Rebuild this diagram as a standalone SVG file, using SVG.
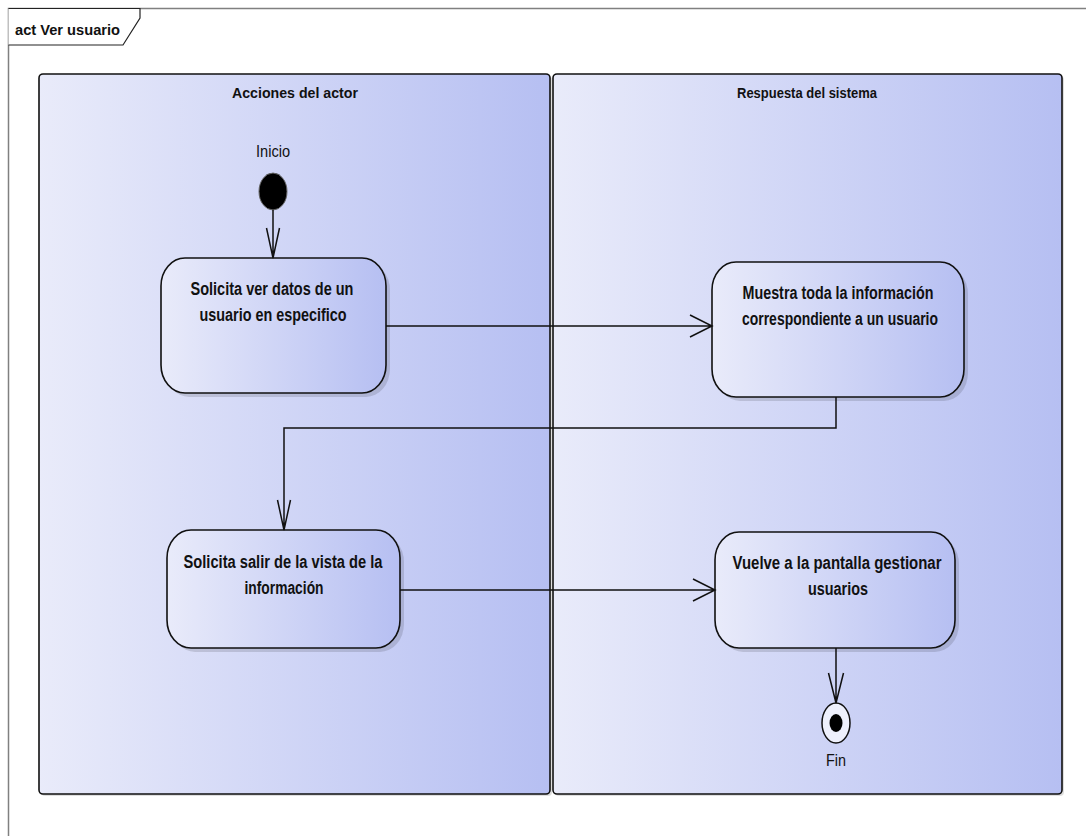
<svg xmlns="http://www.w3.org/2000/svg" width="1086" height="836" viewBox="0 0 1086 836">
<defs>
<linearGradient id="g" x1="0" y1="0" x2="1" y2="0">
<stop offset="0" stop-color="#e9ebfa"/>
<stop offset="1" stop-color="#b6bff2"/>
</linearGradient>
<style>
.part{fill:url(#g);stroke:#111;stroke-width:1.6}
.node{fill:url(#g);stroke:#111;stroke-width:1.6}
.shadow{fill:#000;opacity:0.13}
.t{font-family:"Liberation Sans Narrow","Liberation Sans",Arial,sans-serif;fill:#111}
.b{font-weight:bold}
.c{text-anchor:middle}
.edge{fill:none;stroke:#111;stroke-width:1.5}
</style>
</defs>
<rect width="1086" height="836" fill="#fff"/>
<g id="frame">
<path d="M8.5 836 V8.5 H1086" fill="none" stroke="#808080" stroke-width="1.5"/>
<path d="M8.5 8.5 H140 V18 L123 45 H8.5" fill="#fff" stroke="#222" stroke-width="1.2"/>
<text class="t b" x="15" y="35" font-size="15" textLength="105" lengthAdjust="spacingAndGlyphs">act Ver usuario</text>
</g>
<g id="lane-actor">
<rect x="41" y="76" width="511" height="720" rx="4" class="shadow"/>
<rect x="39" y="74" width="511" height="720" rx="4" class="part"/>
<text class="t b c" x="295" y="98" font-size="15" textLength="126" lengthAdjust="spacingAndGlyphs">Acciones del actor</text>
</g>
<g id="lane-sistema">
<rect x="555" y="76" width="509" height="720" rx="4" class="shadow"/>
<rect x="553" y="74" width="509" height="720" rx="4" class="part"/>
<text class="t b c" x="807" y="98" font-size="15" textLength="140" lengthAdjust="spacingAndGlyphs">Respuesta del sistema</text>
</g>
<g id="inicio">
<ellipse cx="273" cy="191.5" rx="14" ry="18.5" fill="#000" stroke="#666" stroke-width="1"/>
<text class="t c" x="273" y="157" font-size="16" textLength="34" lengthAdjust="spacingAndGlyphs">Inicio</text>
</g>
<g id="n1">
<rect x="165" y="262" width="225" height="135" rx="24" ry="28" class="shadow"/>
<rect x="161" y="258" width="225" height="135" rx="24" ry="28" class="node"/>
<text class="t b c" x="272" y="295" font-size="18" textLength="163" lengthAdjust="spacingAndGlyphs">Solicita ver datos de un</text>
<text class="t b c" x="273" y="321" font-size="18" textLength="147" lengthAdjust="spacingAndGlyphs">usuario en especifico</text>
</g>
<g id="n2">
<rect x="716" y="266" width="252" height="135" rx="24" ry="28" class="shadow"/>
<rect x="712" y="262" width="252" height="135" rx="24" ry="28" class="node"/>
<text class="t b c" x="838" y="299" font-size="18" textLength="191" lengthAdjust="spacingAndGlyphs">Muestra toda la información</text>
<text class="t b c" x="840" y="325" font-size="18" textLength="196" lengthAdjust="spacingAndGlyphs">correspondiente a un usuario</text>
</g>
<g id="n3">
<rect x="171" y="534" width="233" height="118" rx="24" ry="28" class="shadow"/>
<rect x="167" y="530" width="233" height="118" rx="24" ry="28" class="node"/>
<text class="t b c" x="283" y="568" font-size="18" textLength="199" lengthAdjust="spacingAndGlyphs">Solicita salir de la vista de la</text>
<text class="t b c" x="284" y="594" font-size="18" textLength="79" lengthAdjust="spacingAndGlyphs">información</text>
</g>
<g id="n4">
<rect x="719" y="536" width="240" height="116" rx="24" ry="28" class="shadow"/>
<rect x="715" y="532" width="240" height="116" rx="24" ry="28" class="node"/>
<text class="t b c" x="837" y="569" font-size="18" textLength="209" lengthAdjust="spacingAndGlyphs">Vuelve a la pantalla gestionar</text>
<text class="t b c" x="838" y="595" font-size="18" textLength="60" lengthAdjust="spacingAndGlyphs">usuarios</text>
</g>
<g id="fin">
<ellipse cx="836" cy="723" rx="14" ry="20" fill="#eef0fc" stroke="#111" stroke-width="1.5"/>
<ellipse cx="836" cy="723" rx="6.5" ry="9" fill="#000"/>
<text class="t c" x="836" y="766" font-size="16" textLength="20" lengthAdjust="spacingAndGlyphs">Fin</text>
</g>
<g id="connectors">
<path class="edge" d="M273 210 V258 M266.5 228 L273 258 L279.5 228"/>
<path class="edge" d="M386 326 H712 M690 315 L712 326 L690 337"/>
<path class="edge" d="M836 397 V428 H284 V530 M277.5 500 L284 530 L290.5 500"/>
<path class="edge" d="M400 590 H715 M693 579 L715 590 L693 601"/>
<path class="edge" d="M836 648 V703 M828.5 673 L836 703 L843.5 673"/>
</g>
</svg>
